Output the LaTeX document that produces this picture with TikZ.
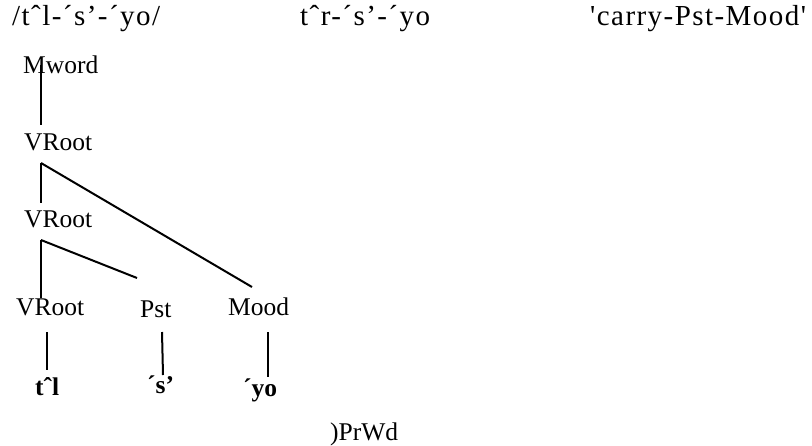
\documentclass[tikz,border=0pt]{standalone}
\usepackage{fontspec}
\setmainfont{Liberation Serif}
\newfontfamily\rawserif{Liberation Serif}[Ligatures=ResetAll]
\begin{document}
\begin{tikzpicture}[x=1pt,y=-1pt,
  lbl/.style={anchor=base west,inner sep=0pt,font=\fontsize{25.5}{30}\selectfont},
  hdr/.style={anchor=base west,inner sep=0pt,font=\rawserif\fontsize{29}{34}\selectfont\addfontfeature{LetterSpace=5}},
  seg/.style={anchor=base west,inner sep=0pt,font=\fontsize{25.5}{30}\selectfont\bfseries},
  edge/.style={line width=2pt}]
\useasboundingbox (0,0) rectangle (812,445);
% header
\node[hdr] (h1) at (12,25) {/tˆl-´s’-´yo/};
\node[hdr] (h2) at (300,25) {tˆr-´s’-´yo};
\node[hdr] (h3) at (590,25) {'carry-Pst-Mood'};
% tree labels
\node[lbl] (mw) at (23,73) {Mword};
\node[lbl] (vr1) at (24,150) {VRoot};
\node[lbl] (vr2) at (24,227) {VRoot};
\node[lbl] (vr3) at (16,315) {VRoot};
\node[lbl] (pst) at (140,317) {Pst};
\node[lbl] (mood) at (228,315) {Mood};
\node[seg] (tl) at (35,395) {tˆl};
\node[seg] (s) at (147,393) {´s’};
\node[seg] (yo) at (243,396) {´yo};
\node[lbl] (prwd) at (330,440) {)PrWd};
% connector end points
\coordinate (mwb) at (41,65);
\coordinate (vr1t) at (41,125);
\coordinate (vr1b) at (41,163);
\coordinate (vr2t) at (41,203);
\coordinate (moodt) at (252,287);
\coordinate (vr2b) at (41,240);
\coordinate (vr3t) at (41,298);
\coordinate (pstt) at (137,278);
\coordinate (vr3b) at (47,332);
\coordinate (tlt) at (47,370);
\coordinate (pstb) at (162,332);
\coordinate (st) at (163,375);
\coordinate (moodb) at (268,332);
\coordinate (yot) at (268,377);
% connectors
\draw[edge] (mwb) -- (vr1t);
\draw[edge] (vr1b) -- (vr2t);
\draw[edge] (vr1b) -- (moodt);
\draw[edge] (vr2b) -- (vr3t);
\draw[edge] (vr2b) -- (pstt);
\draw[edge] (vr3b) -- (tlt);
\draw[edge] (pstb) -- (st);
\draw[edge] (moodb) -- (yot);
\end{tikzpicture}
\end{document}
